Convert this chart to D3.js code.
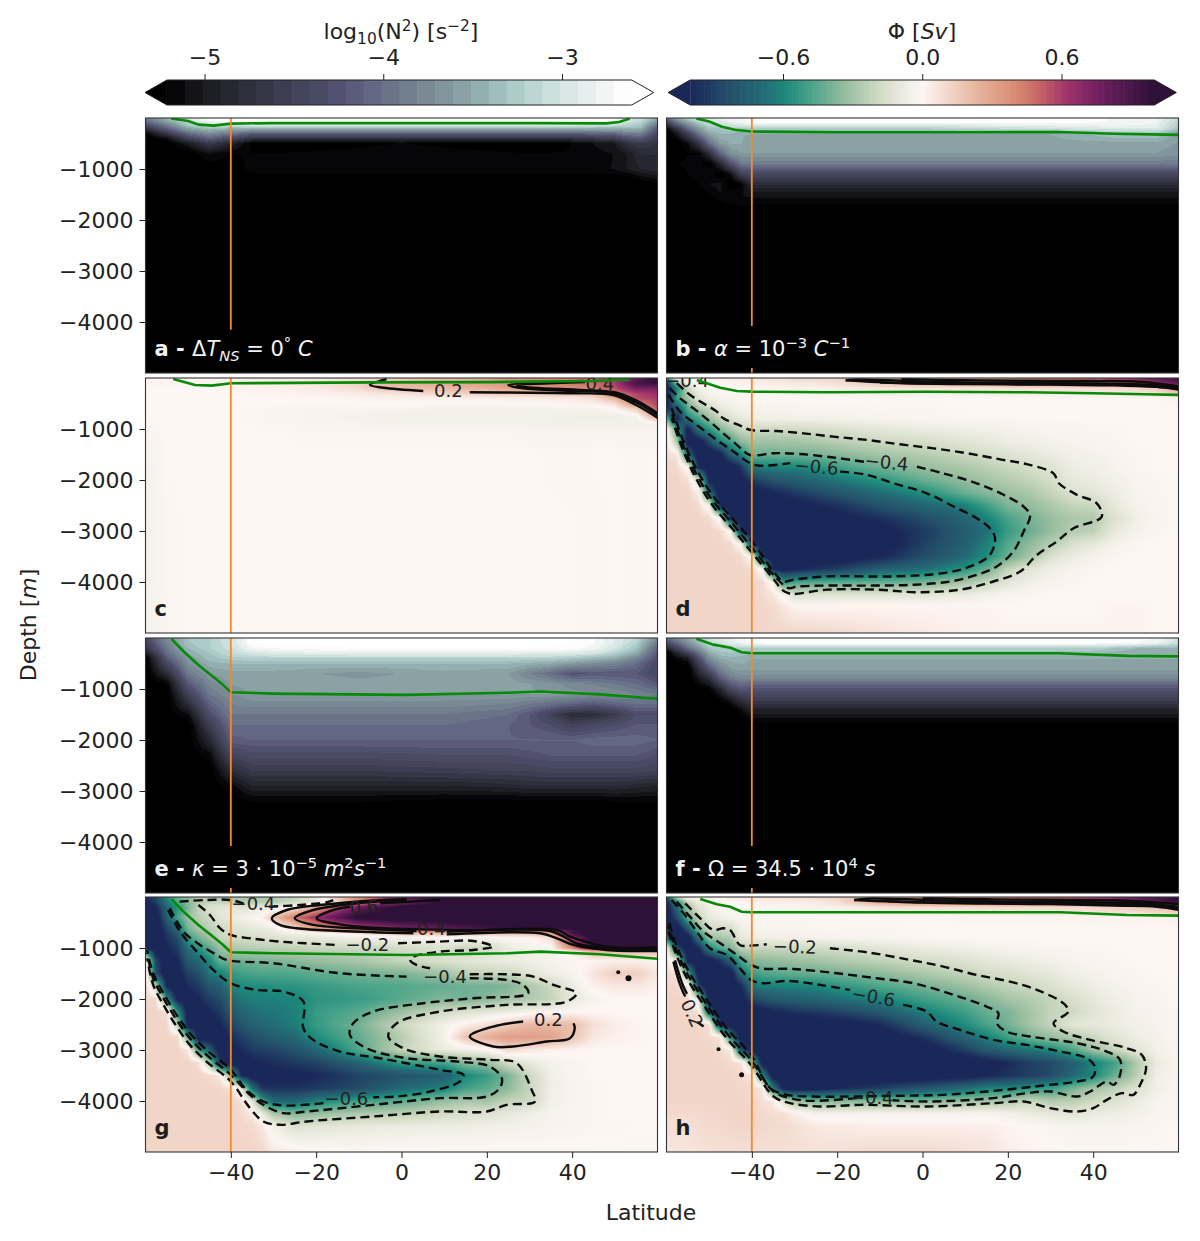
<!DOCTYPE html>
<html>
<head>
<meta charset="utf-8">
<script src="https://cdnjs.cloudflare.com/ajax/libs/d3/7.8.5/d3.min.js"></script>
<style>
  html, body { margin: 0; background: #fff; }
  text { font-family: "DejaVu Sans", sans-serif; fill: #222; }
</style>
</head>
<body>
<svg id="chart" width="1200" height="1241"></svg>
<script>
// colormaps
const N2_STOPS = [-5.2, -5.0, -4.8, -4.6, -4.4, -4.3, -4.1, -3.9, -3.7, -3.5, -3.3, -3.1, -2.9, -2.7, -2.6];
const N2_COLORS = ["#000000", "#1a1a20", "#2a2b36", "#3a3a4c", "#47485f", "#4c4c6a", "#5f6280", "#6d7a8c", "#7d8f98", "#8fa8a8", "#a5c5c4", "#c5dcd8", "#e0ece9", "#f7f9f8", "#ffffff"];
const PHI_STOPS = [-1.0, -0.83, -0.69, -0.59, -0.47, -0.33, -0.18, -0.05, 0, 0.14, 0.25, 0.4, 0.5, 0.62, 0.76, 0.91, 1.0];
const PHI_COLORS = ["#1a2759", "#24506a", "#246a75", "#1c8a7c", "#4ea58a", "#98bd9f", "#d3dcc6", "#f3f0e8", "#fdf6f3", "#efcfc0", "#e6b09a", "#d88c74", "#c76666", "#a0346a", "#701f60", "#451646", "#2f1038"];
const N2_TICKS = [-5, -4, -3];
const PHI_TICKS = [-0.6, 0, 0.6];
const LAT_TICKS = [-40, -20, 0, 20, 40];
const DEPTH_TICKS = [1000, 2000, 3000, 4000];

// panel a: log10(N2)
const latA = [-60, -55, -50, -45, -40, -35, -30, 0, 30, 40, 50, 53, 56, 60];
const depA = [0, 50, 100, 150, 200, 300, 400, 500, 700, 1000, 1200, 1300, 5000];
const gridA = [
  [-3.9, -3.4, -2.9, -2.6, -2.6, -2.6, -2.6, -2.6, -2.6, -2.6, -2.7, -2.9, -3.0, -3.5],
  [-4.0, -3.5, -3.0, -2.7, -2.6, -2.6, -2.6, -2.6, -2.6, -2.6, -2.7, -3.0, -3.1, -3.6],
  [-4.2, -3.7, -3.2, -2.9, -2.8, -2.7, -2.7, -2.7, -2.7, -2.7, -2.9, -3.1, -3.2, -3.8],
  [-4.4, -3.9, -3.3, -3.1, -3.1, -3.0, -3.0, -3.0, -3.0, -3.0, -3.1, -3.2, -3.3, -4.0],
  [-4.7, -4.1, -3.5, -3.3, -3.4, -3.4, -3.4, -3.4, -3.4, -3.4, -3.4, -3.4, -3.4, -4.2],
  [-5.2, -4.6, -4.0, -3.7, -3.9, -4.1, -4.1, -4.1, -4.1, -4.1, -4.0, -3.8, -3.8, -4.4],
  [-5.3, -5.1, -4.5, -4.1, -4.4, -4.7, -4.7, -4.7, -4.7, -4.7, -4.5, -4.3, -4.2, -4.6],
  [-5.3, -5.3, -5.0, -4.6, -4.9, -5.25, -5.3, -5.2, -5.3, -5.2, -5.0, -4.7, -4.6, -4.7],
  [-5.3, -5.3, -5.3, -5.1, -5.2, -5.2, -5.2, -5.15, -5.2, -5.2, -5.1, -5.0, -4.8, -4.8],
  [-5.3, -5.3, -5.3, -5.3, -5.3, -5.15, -5.15, -5.15, -5.15, -5.15, -5.1, -5.0, -4.9, -4.85],
  [-5.3, -5.3, -5.3, -5.3, -5.3, -5.3, -5.3, -5.3, -5.3, -5.3, -5.3, -5.3, -5.2, -5.1],
  [-5.3, -5.3, -5.3, -5.3, -5.3, -5.3, -5.3, -5.3, -5.3, -5.3, -5.3, -5.3, -5.3, -5.3],
  [-5.3, -5.3, -5.3, -5.3, -5.3, -5.3, -5.3, -5.3, -5.3, -5.3, -5.3, -5.3, -5.3, -5.3]
];
const greenA = [[-54, 10], [-50, 60], [-47.5, 130], [-44, 150], [-40, 110], [-30, 100], [0, 100], [30, 100], [48, 105], [51, 80], [53.5, 10]];

// panel b: log10(N2)
const latB = [-60, -57.5, -55, -52.5, -50, -47.5, -45, -42.5, -40, -37.5, -30, 0, 30, 45, 55, 60];
const depB = [0, 100, 200, 300, 500, 700, 900, 1100, 1300, 1500, 1700, 1800, 5000];
const gridB = [
  [-4.0, -3.5, -3.2, -3.0, -2.9, -2.8, -2.7, -2.7, -2.6, -2.6, -2.6, -2.6, -2.6, -2.7, -2.8, -3.1],
  [-4.6, -4.0, -3.6, -3.3, -3.1, -3.0, -2.9, -2.8, -2.7, -2.7, -2.7, -2.7, -2.7, -2.7, -2.8, -3.2],
  [-5.2, -4.6, -4.0, -3.6, -3.3, -3.3, -3.2, -3.2, -3.2, -3.2, -3.2, -3.2, -3.0, -2.9, -2.9, -3.3],
  [-5.3, -5.0, -4.5, -3.9, -3.5, -3.4, -3.4, -3.5, -3.5, -3.5, -3.5, -3.5, -3.5, -3.3, -3.3, -3.6],
  [-5.3, -5.3, -5.1, -4.7, -4.0, -3.6, -3.5, -3.5, -3.55, -3.55, -3.55, -3.55, -3.55, -3.55, -3.55, -3.6],
  [-5.3, -5.3, -5.2, -5.2, -4.8, -4.1, -3.7, -3.6, -3.6, -3.6, -3.6, -3.6, -3.6, -3.6, -3.6, -3.65],
  [-5.3, -5.2, -5.15, -5.15, -5.3, -4.9, -4.3, -3.9, -3.9, -3.9, -3.9, -3.9, -3.9, -3.9, -3.9, -3.9],
  [-5.3, -5.3, -5.2, -5.1, -5.1, -5.3, -5.1, -4.5, -4.4, -4.4, -4.4, -4.4, -4.4, -4.4, -4.4, -4.4],
  [-5.3, -5.3, -5.3, -5.2, -5.1, -5.05, -5.3, -5.2, -4.8, -4.8, -4.8, -4.8, -4.8, -4.8, -4.8, -4.8],
  [-5.3, -5.3, -5.3, -5.3, -5.2, -5.1, -5.1, -5.1, -5.05, -5.05, -5.05, -5.05, -5.05, -5.05, -5.05, -5.05],
  [-5.3, -5.3, -5.3, -5.3, -5.3, -5.25, -5.2, -5.15, -5.2, -5.2, -5.2, -5.2, -5.2, -5.2, -5.2, -5.2],
  [-5.3, -5.3, -5.3, -5.3, -5.3, -5.3, -5.3, -5.3, -5.3, -5.3, -5.3, -5.3, -5.3, -5.3, -5.3, -5.3],
  [-5.3, -5.3, -5.3, -5.3, -5.3, -5.3, -5.3, -5.3, -5.3, -5.3, -5.3, -5.3, -5.3, -5.3, -5.3, -5.3]
];
const greenB = [[-53, 10], [-50, 70], [-47, 170], [-44, 230], [-40, 265], [-20, 280], [10, 280], [32, 275], [45, 310], [60, 330]];

// panel e: log10(N2)
const latE = [-60, -55, -50, -45, -40, -35, -30, -10, 10, 25, 30, 35, 40, 45, 50, 55, 60];
const depE = [0, 100, 200, 300, 400, 500, 700, 900, 1100, 1300, 1500, 1700, 2000, 2300, 2600, 2900, 3200, 3500, 5000];
const gridE = [
  [-4.4, -3.7, -3.3, -3.2, -3.0, -2.6, -2.55, -2.55, -2.55, -2.55, -2.55, -2.55, -2.6, -2.7, -2.9, -3.1, -3.7],
  [-4.5, -3.8, -3.3, -3.2, -3.0, -2.6, -2.55, -2.55, -2.55, -2.55, -2.55, -2.55, -2.6, -2.7, -2.9, -3.2, -3.9],
  [-4.7, -3.9, -3.4, -3.2, -3.05, -2.75, -2.7, -2.6, -2.6, -2.6, -2.6, -2.6, -2.65, -2.75, -3.0, -3.3, -4.1],
  [-5.0, -4.0, -3.5, -3.3, -3.1, -3.0, -2.9, -2.85, -2.85, -2.85, -2.9, -2.9, -2.9, -3.0, -3.2, -3.5, -4.2],
  [-5.3, -4.2, -3.6, -3.35, -3.25, -3.2, -3.2, -3.2, -3.2, -3.2, -3.2, -3.2, -3.3, -3.4, -3.5, -3.8, -4.3],
  [-5.3, -4.4, -3.7, -3.45, -3.4, -3.4, -3.4, -3.4, -3.4, -3.4, -3.45, -3.5, -3.6, -3.7, -3.8, -4.0, -4.4],
  [-5.3, -4.8, -3.9, -3.6, -3.55, -3.55, -3.55, -3.65, -3.55, -3.6, -3.8, -4.0, -4.25, -4.2, -4.2, -4.2, -4.4],
  [-5.3, -5.2, -4.2, -3.75, -3.6, -3.55, -3.55, -3.55, -3.55, -3.55, -3.6, -3.65, -3.75, -3.8, -3.9, -4.0, -4.2],
  [-5.3, -5.3, -4.5, -3.9, -3.7, -3.6, -3.6, -3.6, -3.6, -3.6, -3.6, -3.6, -3.65, -3.7, -3.7, -3.8, -3.9],
  [-5.3, -5.3, -4.8, -4.1, -3.8, -3.75, -3.75, -3.75, -3.75, -3.8, -3.9, -4.0, -4.1, -4.2, -4.1, -4.0, -4.0],
  [-5.3, -5.3, -5.1, -4.3, -3.9, -3.9, -3.9, -3.9, -3.9, -4.0, -4.2, -4.5, -4.8, -4.8, -4.6, -4.3, -4.3],
  [-5.3, -5.3, -5.3, -4.55, -4.0, -4.0, -4.0, -4.0, -4.0, -4.1, -4.2, -4.3, -4.5, -4.4, -4.3, -4.2, -4.2],
  [-5.3, -5.3, -5.3, -4.85, -4.15, -4.1, -4.1, -4.1, -4.1, -4.1, -4.1, -4.1, -4.1, -4.05, -4.05, -4.05, -4.1],
  [-5.3, -5.3, -5.3, -5.15, -4.45, -4.35, -4.35, -4.35, -4.3, -4.3, -4.25, -4.2, -4.2, -4.2, -4.2, -4.2, -4.3],
  [-5.3, -5.3, -5.3, -5.3, -4.8, -4.6, -4.6, -4.6, -4.55, -4.5, -4.5, -4.45, -4.45, -4.45, -4.45, -4.45, -4.5],
  [-5.3, -5.3, -5.3, -5.3, -5.15, -4.9, -4.9, -4.9, -4.9, -4.85, -4.8, -4.8, -4.8, -4.8, -4.8, -4.85, -4.9],
  [-5.3, -5.3, -5.3, -5.3, -5.3, -5.2, -5.2, -5.2, -5.25, -5.25, -5.25, -5.25, -5.25, -5.25, -5.2, -5.2, -5.2],
  [-5.3, -5.3, -5.3, -5.3, -5.3, -5.3, -5.3, -5.3, -5.3, -5.3, -5.3, -5.3, -5.3, -5.3, -5.3, -5.3, -5.3],
  [-5.3, -5.3, -5.3, -5.3, -5.3, -5.3, -5.3, -5.3, -5.3, -5.3, -5.3, -5.3, -5.3, -5.3, -5.3, -5.3, -5.3]
];
const greenE = [[-53.9, 20], [-51, 270], [-47.6, 530], [-43.7, 790], [-41.8, 920], [-40, 1065], [-30, 1090], [1, 1116], [24.6, 1075], [32.5, 1050], [46.5, 1105], [60, 1190]];

// panel f: log10(N2)
const latF = [-60, -55, -50, -47.5, -45, -42.5, -40, -37.5, 0, 40, 50, 55, 60];
const depF = [0, 100, 200, 300, 400, 600, 800, 1000, 1200, 1400, 1650, 1800, 5000];
const gridF = [
  [-4.0, -3.5, -3.0, -2.9, -2.8, -2.7, -2.6, -2.6, -2.55, -2.55, -2.6, -2.7, -3.0],
  [-4.4, -3.7, -3.1, -3.0, -2.9, -2.8, -2.7, -2.65, -2.65, -2.65, -2.7, -2.8, -3.1],
  [-4.9, -4.0, -3.3, -3.2, -3.2, -3.2, -3.2, -3.2, -3.2, -3.2, -3.4, -3.5, -3.4],
  [-5.3, -4.5, -3.5, -3.35, -3.3, -3.35, -3.4, -3.4, -3.4, -3.4, -3.5, -3.5, -3.5],
  [-5.3, -5.0, -3.7, -3.5, -3.45, -3.45, -3.5, -3.5, -3.5, -3.5, -3.5, -3.5, -3.5],
  [-5.3, -5.3, -4.2, -3.8, -3.6, -3.55, -3.55, -3.55, -3.55, -3.55, -3.55, -3.55, -3.55],
  [-5.3, -5.3, -4.8, -4.2, -3.9, -3.8, -3.8, -3.8, -3.8, -3.8, -3.8, -3.8, -3.8],
  [-5.3, -5.3, -5.2, -4.9, -4.4, -4.2, -4.25, -4.25, -4.25, -4.25, -4.25, -4.25, -4.25],
  [-5.3, -5.3, -5.3, -5.2, -5.0, -4.7, -4.55, -4.55, -4.55, -4.55, -4.55, -4.55, -4.55],
  [-5.3, -5.3, -5.3, -5.3, -5.3, -5.1, -4.9, -4.9, -4.9, -4.9, -4.9, -4.9, -4.9],
  [-5.3, -5.3, -5.3, -5.3, -5.3, -5.3, -5.2, -5.2, -5.2, -5.2, -5.2, -5.2, -5.2],
  [-5.3, -5.3, -5.3, -5.3, -5.3, -5.3, -5.3, -5.3, -5.3, -5.3, -5.3, -5.3, -5.3],
  [-5.3, -5.3, -5.3, -5.3, -5.3, -5.3, -5.3, -5.3, -5.3, -5.3, -5.3, -5.3, -5.3]
];
const greenF = [[-53, 15], [-49, 130], [-45, 190], [-42.4, 280], [-40, 300], [0, 300], [32, 300], [48, 350], [60, 360]];

// panel c: phi in hundredths of Sv
const latC = [-60, -55, -50, -45, -40, -30, -20, -10, -5, 0, 10, 20, 25, 30, 40, 45, 50, 55, 60];
const depC = [0, 100, 200, 300, 400, 500, 600, 750, 900, 1100, 1500, 3000, 5000];
const gridC = [
  [0, 0, 0, 0, 2, 3, 3, 5, 8, 12, 18, 25, 35, 38, 42, 48, 55, 80, 110],
  [1, 1, 1, 1, 2, 3, 5, 14, 20, 23, 28, 32, 36, 40, 45, 50, 60, 90, 100],
  [0, 0, 0, 0, 1, 2, 4, 10, 18, 20, 22, 25, 30, 35, 38, 42, 55, 75, 75],
  [0, 0, 0, 0, 0, 1, 2, 4, 6, 8, 12, 15, 16, 16, 18, 22, 45, 58, 65],
  [0, 0, 0, 0, 0, 0, 0, 1, 2, 2, 2, 2, 3, 3, 5, 8, 25, 55, 60],
  [0, 0, 0, 0, 0, 0, 0, 0, 0, 0, 0, 0, 0, 0, 1, 2, 8, 42, 58],
  [0, 0, 0, 0, 0, -1, -2, -2, -3, -3, -4, -4, -4, -4, -4, -3, 0, 15, 55],
  [0, 0, 0, 0, 0, -2, -3, -4, -4, -5, -5, -5, -5, -5, -6, -6, -6, -4, 30],
  [-1, 0, 0, 0, 0, -1, -2, -3, -4, -4, -4, -4, -4, -4, -5, -5, -5, -5, -4],
  [-2, 0, 0, 0, 0, 0, -1, -1, -1, -1, -1, -1, -1, -2, -2, -2, -2, -2, -2],
  [-4, 0, 0, 0, 0, 0, 0, 0, 0, 0, 0, 0, 0, 0, -1, 0, 0, -1, 0],
  [-5, -1, 0, 0, 0, 0, 0, 0, 0, 0, 0, 0, 0, 0, 0, -1, 0, -1, 0],
  [-4, -1, 0, 0, 0, 0, 0, 0, 0, 0, 0, 0, 0, 0, 0, -1, 0, -1, 0]
];
const greenC = [[-53.5, 20], [-48.4, 137], [-44.5, 150], [-40, 104], [-6.6, 85], [20, 80], [45, 60], [53.5, 30]];
const solidC = [
  [[-3.5, 20], [-7.4, 137], [-4.3, 190], [5.1, 254]],
  [[16, 280], [40.3, 300], [49.6, 333], [55, 530], [60, 780]],
  [[42.6, 58], [25, 137], [28.5, 202], [40.3, 254], [49.6, 300], [55, 476], [60, 730]],
  [[43, 80], [27, 150], [31, 190], [42, 235], [50, 280], [55, 440], [60, 690]]
];

// panels d and h share a finer grid
const latFine = [-60, -57.5, -55, -52.5, -50, -47.5, -45, -42.5, -40, -37.5, -35, -32.5, -30, -25, -20, -10, 0, 10, 15, 20, 25, 30, 35, 40, 45, 50, 55, 60];
const depFine = [0, 100, 200, 400, 600, 800, 1000, 1250, 1500, 1750, 2000, 2250, 2500, 2750, 3000, 3250, 3500, 3750, 4000, 4250, 4500, 5000];

const gridD = [
  [-50, -10, 0, 0, 0, 2, 3, 3, 5, 6, 7, 8, 10, 10, 12, 25, 30, 35, 40, 40, 45, 50, 50, 55, 60, 70, 85, 95],
  [-100, -30, -5, 0, 0, 0, 2, 2, 3, 3, 4, 4, 5, 6, 8, 18, 25, 30, 30, 35, 35, 40, 40, 40, 45, 50, 65, 85],
  [-110, -60, -20, -5, 0, 0, 0, 0, 0, 0, 1, 1, 2, 2, 3, 5, 6, 6, 6, 7, 8, 8, 8, 8, 9, 10, 15, 30],
  [-110, -50, -30, -12, -6, -3, -2, -1, 0, 0, 0, 0, 0, 0, 0, 0, 0, 0, 0, 0, 0, 0, 0, 0, 0, 0, 0, 2],
  [-100, -80, -45, -30, -20, -10, -6, -4, -3, -3, -3, -3, -2, -2, -2, -1, -1, 0, 0, 0, 0, 0, 0, 0, 0, 0, 0, 0],
  [-40, -105, -60, -48, -33, -22, -15, -10, -7, -6, -6, -6, -5, -5, -4, -3, -2, -1, -1, -1, 0, 0, 0, 0, 0, 0, 0, 0],
  [3, -50, -105, -66, -55, -38, -28, -20, -19, -19, -19, -18, -18, -17, -15, -11, -8, -6, -5, -4, -3, -2, -2, -1, -1, 0, 0, 0],
  [8, -30, -110, -110, -85, -62, -50, -35, -30, -31, -31, -30, -30, -28, -25, -20, -17, -12, -10, -7, -6, -4, -3, -2, -1, 0, 0, 0],
  [10, 5, -70, -110, -110, -105, -75, -62, -40, -41, -41, -40, -40, -39, -36, -30, -26, -20, -17, -14, -11, -8, -5, -4, -2, -1, 0, 0],
  [12, 10, -2, -100, -110, -110, -110, -95, -65, -62, -62, -60, -61, -57, -50, -40, -33, -28, -24, -20, -17, -13, -7, -6, -3, -1, 0, 0],
  [12, 12, 8, -15, -105, -110, -110, -105, -92, -85, -80, -78, -75, -71, -65, -55, -42, -34, -30, -26, -22, -17, -10, -8, -5, -2, -1, 0],
  [12, 12, 12, 3, -70, -110, -110, -110, -108, -105, -100, -96, -92, -86, -80, -68, -58, -41, -36, -32, -28, -22, -14, -12, -7, -3, -1, 0],
  [12, 12, 12, 10, -5, -100, -110, -110, -110, -110, -110, -108, -106, -100, -95, -82, -72, -62, -50, -38, -34, -28, -22, -20, -10, -4, -2, 0],
  [12, 12, 12, 12, 10, -3, -100, -110, -110, -110, -110, -110, -110, -110, -106, -96, -85, -72, -62, -48, -40, -33, -28, -27, -14, -6, -2, 0],
  [12, 12, 12, 12, 12, 10, -3, -100, -110, -110, -110, -110, -110, -110, -110, -106, -92, -76, -68, -52, -42, -33, -26, -24, -10, -4, -1, 0],
  [12, 12, 12, 12, 12, 12, 10, -3, -95, -110, -110, -110, -110, -110, -110, -108, -90, -74, -62, -46, -35, -26, -16, -10, -4, -1, 0, 0],
  [12, 12, 12, 12, 12, 12, 12, 10, -3, -100, -110, -110, -110, -110, -110, -100, -85, -70, -58, -42, -30, -15, -8, -4, -1, 0, 0, 0],
  [12, 12, 12, 12, 12, 12, 12, 12, 10, -3, -100, -105, -100, -95, -90, -75, -68, -55, -42, -22, -12, -6, -3, -1, 0, 0, 0, 0],
  [12, 12, 12, 12, 12, 12, 12, 12, 12, 10, -5, -55, -50, -46, -45, -43, -40, -30, -21, -12, -6, -3, -1, 0, 0, 0, 0, 0],
  [12, 12, 12, 12, 12, 12, 12, 12, 12, 10, 6, -4, -15, -14, -13, -13, -12, -8, -5, -2, -1, 0, 0, 0, 0, 0, 0, 0],
  [12, 12, 12, 12, 12, 12, 12, 12, 12, 11, 10, 6, 2, 1, 1, 1, 1, 1, 1, 0, 0, 0, 0, 0, 1, 1, 0, 0],
  [12, 12, 12, 12, 12, 12, 12, 12, 12, 12, 11, 11, 11, 11, 10, 7, 4, 2, 2, 1, 1, 1, 1, 1, 1, 1, 0, 0]
];
const greenD = [[-52.9, 40], [-47.4, 190], [-43.5, 255], [-40, 268], [-22.4, 280], [1, 270], [24.4, 280], [40, 300], [52, 320], [60, 330]];
const dashD = [
  [[-57.6, 100], [-54.5, 330], [-51.3, 500], [-48.2, 660], [-46.7, 790], [-43.1, 920], [-40.2, 1020], [-34.2, 1040], [-27.9, 1085], [-20.9, 1150], [-13, 1215], [-5.3, 1300], [2.6, 1380], [10.4, 1475], [18.2, 1595], [24.4, 1690], [30.7, 1870], [31.9, 2060], [36.2, 2290], [40.8, 2455], [42, 2720], [35.4, 2945], [31.5, 3205], [26.8, 3470], [22.9, 3795], [16.6, 3990], [8.8, 4150], [-1.3, 4200], [-10.7, 4150], [-22.4, 4150], [-31, 4230], [-33, 4150], [-34.2, 4020], [-40.2, 3400], [-44.3, 2980], [-49, 2520], [-52.9, 2000], [-56, 1440], [-58.8, 790]],
  [[-59.2, 200], [-56.8, 400], [-53.7, 594], [-49.8, 855], [-46.7, 1085], [-43.5, 1310], [-40.4, 1510], [-34.9, 1475], [-28.7, 1490], [-20.9, 1560], [-13, 1650]],
  [[-1.3, 1740], [4.9, 1870], [12.7, 2065], [19, 2290], [23.7, 2520], [25.2, 2700], [23.7, 3010], [21.3, 3400], [17.4, 3695], [12.7, 3860], [6.5, 3990], [-2.1, 4055], [-11.5, 4070], [-22.4, 4070], [-29.5, 4090], [-31.4, 4120], [-34.2, 3925], [-40.2, 3305], [-44.3, 2880], [-49, 2425], [-52.9, 1900], [-56, 1345], [-58.8, 690]],
  [[-59.5, 330], [-56.8, 660], [-52.9, 920], [-48.2, 1215], [-44.3, 1440], [-40.4, 1670], [-38, 1720], [-31, 1670]],
  [[-19.3, 1835], [-13, 1900], [-6.8, 2065], [1, 2260], [7.3, 2520], [12.7, 2750], [15.8, 2945], [17, 3140], [15.8, 3470], [11.2, 3695], [4.9, 3825], [-6.8, 3890], [-22.4, 3890], [-30.3, 3955], [-32.6, 3990], [-34.9, 3795], [-40.2, 3175], [-44.3, 2780], [-49, 2325], [-52.9, 1800], [-56, 1245], [-58.8, 594]]
];
const solidD = [
  [[-18, 45], [-5, 100], [10, 120], [30, 130], [45, 145], [55, 175], [60, 225]],
  [[-18, 45], [-15, 30], [0, 70], [15, 95], [30, 100], [45, 110], [55, 140], [60, 190]],
  [[-5, 20], [10, 45], [25, 55], [40, 60], [50, 70], [60, 160]],
  [[-10, 90], [5, 110], [25, 118], [45, 130], [60, 205]]
];

// panel g needs two more rows where the warm cell ends abruptly
const depG = [0, 100, 200, 400, 600, 650, 720, 800, 1000, 1060, 1250, 1500, 1750, 2000, 2250, 2500, 2750, 3000, 3250, 3500, 3750, 4000, 4250, 4500, 5000];
const gridG = [
  [-100, -85, -60, -42, -35, -28, -25, -28, -30, -30, -30, -30, -28, -22, -10, 40, 80, 110, 110, 110, 110, 110, 110, 110, 110, 110, 110, 110],
  [-105, -90, -65, -45, -35, -25, -22, -22, -24, -25, -25, -25, -25, -18, -10, 35, 70, 105, 110, 110, 110, 110, 110, 110, 110, 110, 110, 110],
  [-110, -100, -72, -55, -38, -22, -15, -12, -10, -12, -12, -10, -8, 3, 28, 78, 105, 110, 110, 110, 110, 110, 110, 110, 110, 110, 110, 110],
  [-110, -108, -75, -48, -32, -24, -19, -12, -8, -5, -2, 3, 18, 45, 65, 105, 110, 110, 110, 110, 110, 110, 110, 110, 110, 110, 110, 110],
  [-110, -110, -88, -68, -38, -28, -23, -19, -15, -12, -10, -8, -5, 12, 35, 55, 75, 85, 90, 95, 100, 105, 110, 110, 110, 110, 110, 110],
  [-110, -110, -90, -72, -40, -30, -25, -20, -16, -13, -11, -9, -7, 5, 20, 40, 58, 62, 62, 62, 62, 62, 62, 95, 110, 110, 110, 110],
  [-110, -110, -93, -78, -45, -35, -28, -20, -17, -15, -14, -12, -10, -6, -3, 5, 15, 18, 18, 18, 18, 20, 25, 90, 110, 110, 110, 110],
  [-110, -110, -95, -85, -52, -40, -30, -21, -18, -18, -17, -15, -14, -12, -10, -6, -3, -1, -2, -3, 0, 0, 8, 70, 105, 110, 110, 110],
  [-110, -110, -100, -92, -65, -55, -45, -32, -28, -26, -25, -24, -24, -23, -21, -20, -18, -15, -21, -19, -8, -4, -2, 40, 100, 100, 100, 100],
  [-60, -110, -102, -93, -70, -58, -48, -34, -30, -29, -28, -27, -27, -26, -24, -22, -19, -15, -18, -16, -8, -5, -3, 2, 25, 22, 20, 20],
  [5, -90, -108, -100, -78, -70, -60, -42, -41, -40, -39, -38, -38, -36, -33, -29, -21, -15, -12, -10, -8, -6, -4, -1, 1, 2, 2, 1],
  [10, -85, -110, -105, -90, -82, -65, -62, -53, -50, -48, -47, -47, -46, -44, -40, -38, -30, -24, -22, -20, -12, -6, -3, 6, 14, 14, 5],
  [12, -25, -100, -108, -98, -92, -80, -75, -61, -59, -58, -58, -56, -55, -52, -48, -46, -43, -41, -40, -38, -28, -20, -8, 2, 5, 5, 2],
  [12, 10, -55, -105, -105, -100, -90, -85, -72, -65, -62, -62, -62, -61, -55, -52, -45, -37, -40, -36, -30, -27, -22, -10, -3, 0, 0, 0],
  [12, 12, 8, -55, -110, -105, -100, -92, -80, -72, -68, -66, -65, -62, -52, -45, -32, -18, -15, -12, -8, -4, -2, 0, 0, 0, 0, 0],
  [12, 12, 12, -25, -110, -110, -108, -100, -88, -80, -74, -70, -68, -63, -52, -40, -20, -5, 2, 8, 15, 22, 22, 20, 8, 3, 1, 0],
  [12, 12, 12, 12, -45, -110, -110, -106, -97, -90, -84, -80, -76, -70, -58, -43, -25, -4, 18, 25, 32, 32, 30, 18, 5, 2, 1, 0],
  [12, 12, 12, 12, 5, -55, -75, -110, -105, -98, -92, -90, -88, -82, -72, -46, -22, -8, -7, -2, 10, 5, 2, 1, 0, 0, 0, 0],
  [12, 12, 12, 12, 12, 8, -28, -95, -110, -106, -102, -99, -97, -92, -88, -72, -52, -48, -35, -32, -17, -10, -4, -2, 0, 0, 0, 0],
  [12, 12, 12, 12, 12, 12, 10, 5, -38, -100, -108, -108, -106, -104, -100, -88, -82, -75, -60, -52, -38, -20, -6, -2, 0, 0, 0, 0],
  [12, 12, 12, 12, 12, 12, 12, 11, 8, -10, -70, -95, -95, -95, -92, -85, -70, -62, -50, -44, -35, -21, -6, -3, -1, 0, 0, 0],
  [12, 12, 12, 12, 12, 12, 12, 12, 12, 8, -12, -50, -72, -72, -62, -50, -44, -33, -28, -30, -22, -20, -5, -2, -1, 0, 0, 0],
  [12, 12, 12, 12, 12, 12, 12, 12, 12, 10, 4, -10, -28, -37, -33, -27, -24, -18, -15, -14, -10, -6, -3, -2, -1, 0, 0, 0],
  [12, 12, 12, 12, 12, 12, 12, 12, 12, 11, 10, 5, -5, -14, -12, -9, -8, -7, -7, -6, -5, -4, -3, -2, -1, -1, 0, 0],
  [12, 12, 12, 12, 12, 12, 12, 12, 12, 12, 12, 10, 5, 3, 1, 0, 1, 1, 1, 1, 1, 1, 1, 1, 1, 1, 1, 1]
];
const greenG = [[-53.9, 40], [-51.1, 288], [-47.6, 549], [-43.7, 810], [-41.8, 940], [-40, 1084], [-30, 1104], [1.2, 1136], [24.6, 1104], [32.5, 1071], [46.5, 1123], [60, 1210]];
const dashG = [
  [[-52, 90], [-46, 60], [-40, 60], [-37, 130]],
  [[-31, 190], [-24.5, 160], [-17.5, 100], [-16, 60]],
  [[-47.6, 157], [-44.9, 353], [-42.5, 614], [-40, 745], [-35.5, 810], [-28.5, 875], [-15.2, 940]],
  [[-0.8, 908], [9, 875], [16.8, 862], [21.5, 973], [16.8, 1038], [9, 1071], [2.8, 1169], [2, 1234], [3.5, 1332], [6.7, 1398]],
  [[16, 1515], [24.6, 1515], [30.9, 1560], [35.6, 1724], [41, 1887], [38.7, 2051], [24.6, 2116], [9, 2246], [-1.1, 2475], [-3.1, 2736], [0.4, 2965], [9, 3128], [20.7, 3193], [27, 3259], [30.5, 3781], [31.3, 4010], [24.6, 4075], [20, 4206], [9, 4206], [-6.6, 4303], [-22.2, 4401], [-28.5, 4467], [-32.4, 4401], [-35.5, 4140], [-40, 3618], [-45.7, 3226], [-49.6, 2900], [-52.7, 2540], [-55.8, 2116], [-58.2, 1724], [-59.6, 1200]],
  [[-54.3, 222], [-51.1, 679], [-47.2, 940], [-43.3, 1136], [-41, 1234], [-30, 1300], [-14.4, 1496], [1.2, 1561]],
  [[16, 1594], [24.6, 1626], [28.5, 1724], [29.7, 1887], [16.8, 1985], [5.1, 2083], [-6.6, 2246], [-11.3, 2475], [-12.1, 2704], [-8.2, 2965], [1.2, 3161], [12.9, 3226], [20.7, 3324], [23.5, 3552], [23, 3748], [20, 3912], [9, 3944], [-6.6, 4075], [-22.2, 4206], [-27.7, 4238], [-32.4, 4075], [-35.5, 3879], [-40, 3487], [-45.7, 3095], [-49.6, 2769], [-52.7, 2410], [-55.8, 1985], [-58.2, 1594], [-59.6, 1100]],
  [[-54.7, 255], [-51.9, 679], [-48, 1071], [-44.1, 1430], [-40, 1692], [-34, 1822], [-27.7, 1855], [-23, 2051], [-23, 2573], [-20.7, 2802], [-14.4, 3030], [-5.1, 3161], [9, 3389], [14.5, 3487], [13.7, 3618], [6.7, 3814], [-1.1, 3912], [-6.6, 3925]],
  [[-18.3, 4042], [-27.7, 4088], [-32.4, 4010], [-36.3, 3781], [-40, 3389], [-45.7, 2998], [-49.6, 2671], [-52.7, 2312], [-55.8, 1887], [-58.2, 1496], [-59.6, 1040]]
];
const solidG = [
  [[28.5, 2442], [21.5, 2540], [16, 2736], [21.5, 2932], [26.2, 2932], [34, 2834], [39.5, 2769], [40.6, 2573], [40.3, 2475]],
  [[1.2, 40], [-10.5, 92], [-19.1, 157], [-26.9, 255], [-30.4, 418], [-28.5, 548], [-24.6, 614], [-14.4, 666], [2.8, 712]],
  [[10.6, 732], [32.5, 712], [36.4, 810], [40.3, 940], [48, 1038], [60, 1060]],
  [[1.2, 60], [-10.5, 124], [-20.7, 255], [-25, 418], [-20.7, 548], [-10.5, 614], [3.5, 666]],
  [[10.6, 680], [34.8, 666], [38, 777], [41, 908], [48, 1006], [60, 1022]],
  [[9, 60], [-5, 124]],
  [[-12, 190], [-16, 255], [-19.9, 418], [-14.4, 536], [-6.6, 600], [16.8, 647], [36.4, 647], [39.5, 777], [41.8, 842], [48, 973], [60, 990]]
];
const dotsG = [[50.8, 1476, 2], [53.2, 1594, 3]];

const gridH = [
  [-80, -20, 0, 0, 0, 0, 2, 3, 5, 6, 6, 7, 8, 10, 12, 25, 35, 40, 45, 45, 50, 50, 55, 60, 70, 80, 90, 100],
  [-100, -60, -20, -8, -3, -1, 0, 1, 2, 2, 3, 3, 3, 4, 8, 28, 40, 45, 45, 50, 50, 50, 55, 60, 65, 75, 85, 100],
  [-110, -70, -30, -13, -6, -3, -1, 0, 0, 0, 1, 1, 1, 2, 2, 6, 8, 8, 9, 9, 10, 10, 10, 12, 14, 16, 20, 25],
  [-110, -85, -42, -22, -9, -6, -3, -2, -1, -1, -1, -1, -1, 0, 0, 0, 0, 1, 1, 1, 1, 1, 1, 1, 1, 2, 2, 3],
  [-100, -110, -75, -35, -18, -16, -16, -5, -3, -2, -2, -2, -2, -1, -1, -1, 0, 0, 0, 0, 0, 0, 0, 0, 0, 0, 0, 0],
  [-70, -110, -110, -65, -32, -30, -26, -10, -7, -6, -6, -5, -5, -4, -3, -2, -1, 0, 0, 0, 0, 0, 0, 0, 0, 0, 0, 0],
  [0, -85, -110, -100, -60, -45, -38, -23, -21, -21, -20, -20, -19, -18, -17, -12, -8, -6, -4, -3, -2, -1, -1, -1, 0, 0, 0, 0],
  [6, -10, -105, -110, -110, -95, -75, -47, -37, -35, -34, -33, -32, -30, -27, -23, -18, -14, -11, -9, -7, -5, -3, -2, -1, 0, 0, 0],
  [10, 8, -45, -108, -110, -110, -110, -68, -52, -47, -45, -44, -43, -42, -40, -35, -28, -22, -18, -16, -12, -10, -6, -4, -2, -1, 0, 0],
  [12, 10, 5, -90, -110, -110, -110, -100, -68, -62, -62, -62, -61, -60, -55, -47, -40, -32, -27, -22, -20, -15, -10, -7, -4, -2, -1, 0],
  [12, 12, 10, -15, -110, -110, -110, -108, -88, -82, -78, -76, -75, -72, -68, -61, -50, -42, -36, -30, -26, -22, -16, -10, -6, -3, -2, 0],
  [12, 12, 12, 8, -80, -110, -110, -110, -108, -105, -100, -98, -95, -92, -88, -78, -62, -50, -42, -38, -30, -22, -20, -12, -8, -4, -3, -1],
  [12, 12, 12, 11, 8, -95, -110, -110, -110, -110, -110, -110, -110, -110, -108, -98, -75, -58, -48, -40, -30, -22, -12, -10, -8, -5, -3, -1],
  [12, 12, 12, 12, 10, 8, -60, -110, -110, -110, -110, -110, -110, -110, -110, -110, -95, -72, -62, -50, -40, -33, -27, -20, -12, -7, -4, -1],
  [12, 12, 12, 12, 12, 10, 5, -85, -110, -110, -110, -110, -110, -110, -110, -110, -110, -90, -78, -72, -66, -60, -48, -32, -21, -12, -5, -2],
  [12, 12, 12, 12, 12, 12, 10, 8, -35, -110, -110, -110, -110, -110, -110, -110, -110, -110, -105, -98, -90, -85, -75, -62, -50, -28, -8, -2],
  [12, 12, 12, 12, 12, 12, 12, 10, 8, -60, -110, -110, -110, -110, -110, -110, -110, -105, -100, -95, -90, -85, -72, -60, -42, -25, -6, -2],
  [12, 12, 12, 12, 12, 12, 12, 11, 10, 6, -65, -105, -110, -105, -100, -90, -80, -70, -62, -60, -55, -52, -40, -30, -24, -15, -5, -2],
  [12, 12, 12, 12, 12, 12, 12, 12, 11, 8, 5, -15, -30, -38, -36, -37, -38, -32, -30, -28, -20, -26, -25, -19, -14, -8, -3, -1],
  [10, 10, 10, 10, 11, 11, 12, 12, 12, 10, 9, 8, 3, -4, -4, -3, -3, -3, -2, -5, -8, -10, -12, -8, -7, -5, -2, -1],
  [8, 8, 8, 9, 10, 10, 11, 12, 12, 11, 10, 10, 8, 5, 4, 3, 3, 3, 3, 1, 0, -2, -3, -3, -3, -2, -1, 0],
  [6, 6, 6, 7, 8, 8, 8, 8, 8, 8, 8, 8, 8, 8, 8, 10, 10, 8, 7, 3, 1, 1, 0, 0, 0, 0, 0, 0]
];
const greenH = [[-52.1, 40], [-48.2, 144], [-45.1, 190], [-42.4, 288], [-40.2, 300], [1, 300], [32.3, 300], [47.9, 353], [60, 366]];
const dashH = [
  [[-55.6, 124], [-52.5, 385], [-49, 647], [-46.7, 614], [-45.1, 647], [-42.8, 940], [-40.2, 954], [-36.5, 927]],
  [[-21.7, 1006], [-13, 1084], [-2.9, 1234], [4.9, 1365], [12.7, 1528], [20.5, 1659], [26.8, 1822], [33, 2083], [34.2, 2246], [30.7, 2475], [33, 2638], [39.3, 2802], [47.9, 2965], [51.4, 3095], [52.4, 3357], [51, 3683], [49.4, 3879], [46.7, 3846], [43.2, 3977], [40, 4140], [36.2, 4206], [29.9, 4140], [23.7, 4010], [16.6, 4042], [1, 4108], [-14.6, 4075], [-24, 4108], [-31, 4042], [-34.9, 3912], [-40.2, 3291], [-45.9, 2769], [-51.3, 2116], [-55.2, 1594], [-58, 1071], [-59.5, 679]],
  [[-57.6, 92], [-54.5, 385], [-51.3, 679], [-47.4, 908], [-43.5, 1136], [-40.2, 1332], [-38, 1398], [-30.3, 1411], [-20, 1496], [-10.7, 1594], [-2.1, 1692], [7.3, 1920], [15, 2148], [17.8, 2279], [17.4, 2475], [19.7, 2638], [25.2, 2736], [36.2, 2867], [43.2, 3030], [46.3, 3193], [46.3, 3487], [44.8, 3683], [43.2, 3618], [39.3, 3814], [36.2, 3912], [29.9, 3814], [24.4, 3846], [16.6, 3944], [1, 4010], [-7, 3985]],
  [[-15.4, 3944], [-26.3, 3997], [-31, 3944], [-34.9, 3814], [-40.2, 3193], [-45.9, 2671], [-51.3, 2018], [-55.2, 1496], [-58, 973], [-59.5, 581]],
  [[-58.8, 60], [-56, 320], [-52.9, 679], [-49.8, 1006], [-45.9, 1136], [-42.8, 1398], [-40.2, 1626], [-37.3, 1692], [-31.8, 1646], [-24, 1724], [-17, 1822]],
  [[-4.5, 2116], [1, 2246], [3.3, 2442], [8.8, 2606], [16.6, 2802], [24.4, 2900], [32.3, 3030], [38.5, 3161], [40.4, 3324], [40, 3520], [36.2, 3618], [28.3, 3696], [22.9, 3748], [15, 3814], [4.9, 3879], [-6.8, 3899], [-26.3, 3912], [-31.8, 3879], [-35.7, 3748], [-40.2, 3095], [-45.9, 2573], [-51.3, 1920], [-55.2, 1398], [-58, 875], [-59.5, 483]]
];
const solidH = [
  [[-16, 60], [0, 110], [15, 130], [30, 140], [45, 170], [55, 190], [60, 250]],
  [[-16, 60], [-12, 30], [5, 70], [20, 90], [35, 100], [50, 120], [60, 190]],
  [[0, 20], [15, 45], [30, 55], [45, 65], [60, 140]],
  [[-8, 85], [10, 115], [30, 125], [50, 150], [60, 220]],
  [[-58.4, 1267], [-56.8, 1724], [-55.6, 1950]],
  [[-58, 1240], [-56.3, 1700], [-55.2, 1900]],
  [[-52.8, 2450], [-51.3, 2540]]
];
const dotsH = [[-47.8, 2985, 2], [-42.4, 3487, 2.5]];

// inline contour labels: [text, lat, depth, rotation]
const labelsC = [["0.2", 11, 248, 0], ["0.4", 46.5, 104, 0]];
const labelsD = [["−0.6", -24.8, 1737, 5], ["−0.4", -8.4, 1652, 6], ["−0.4", -55.2, 40, 0]];
const labelsG = [["−0.4", -34.7, 124, 0], ["0.6", -8.8, 190, -4], ["0.4", 7, 614, 0], ["−0.2", -8, 927, 0], ["−0.4", 10.2, 1561, 0], ["0.2", 34.4, 2410, 0], ["−0.6", -12.9, 3944, 0]];
const labelsH = [["−0.2", -29.9, 973, 2], ["−0.6", -11.5, 1953, 10], ["−0.4", -11.9, 3930, 0], ["0.2", -54, 2280, 65]];

// orange line stretches, broken where the panel text sits
const orangeFull = [[0, 5000]];
const orangeA = [[0, 4150]];
const orangeCut = [[0, 4080], [4900, 5000]];

const colLeft = [145.5, 666.5];
const rowTop = [118, 378, 638, 897];
const panelW = 512;
const panelH = 255;

const panels = [
  { id: "a", col: 0, row: 0, kind: "n2", lat: latA, dep: depA, grid: gridA, green: greenA, orange: orangeA, dash: [], solid: [], labels: [], dots: [], title: [["a", "b"], [" - ", "b"], ["Δ", ""], ["T", "i"], ["NS", "is"], [" = 0", "r"], ["°", "u"], [" ", ""], ["C", "i"]] },
  { id: "b", col: 1, row: 0, kind: "n2", lat: latB, dep: depB, grid: gridB, green: greenB, orange: orangeCut, dash: [], solid: [], labels: [], dots: [], title: [["b", "b"], [" - ", "b"], ["α", "i"], [" = 10", "r"], ["−3", "u"], [" ", ""], ["C", "i"], ["−1", "u"]] },
  { id: "c", col: 0, row: 1, kind: "phi", lat: latC, dep: depC, grid: gridC, green: greenC, orange: orangeFull, dash: [], solid: solidC, labels: labelsC, dots: [], title: [["c", "b"]] },
  { id: "d", col: 1, row: 1, kind: "phi", lat: latFine, dep: depFine, grid: gridD, green: greenD, orange: orangeFull, dash: dashD, solid: solidD, labels: labelsD, dots: [], title: [["d", "b"]] },
  { id: "e", col: 0, row: 2, kind: "n2", lat: latE, dep: depE, grid: gridE, green: greenE, orange: orangeCut, dash: [], solid: [], labels: [], dots: [], title: [["e", "b"], [" - ", "b"], ["κ", "i"], [" = 3 · 10", "r"], ["−5", "u"], [" ", ""], ["m", "i"], ["2", "u"], ["s", "i"], ["−1", "u"]] },
  { id: "f", col: 1, row: 2, kind: "n2", lat: latF, dep: depF, grid: gridF, green: greenF, orange: orangeCut, dash: [], solid: [], labels: [], dots: [], title: [["f", "b"], [" - ", "b"], ["Ω = 34.5 · 10", "r"], ["4", "u"], [" ", ""], ["s", "i"]] },
  { id: "g", col: 0, row: 3, kind: "phi", lat: latFine, dep: depG, grid: gridG, green: greenG, orange: orangeFull, dash: dashG, solid: solidG, labels: labelsG, dots: dotsG, title: [["g", "b"]] },
  { id: "h", col: 1, row: 3, kind: "phi", lat: latFine, dep: depFine, grid: gridH, green: greenH, orange: orangeFull, dash: dashH, solid: solidH, labels: labelsH, dots: dotsH, title: [["h", "b"]] }
];

const n2Ramp = d3.scaleLinear().domain(N2_STOPS).range(N2_COLORS).clamp(true);
const phiRamp = d3.scaleLinear().domain(PHI_STOPS).range(PHI_COLORS).clamp(true);
// the N2 colorbar has 26 flat steps of 0.1
const n2Step = v => n2Ramp(Math.floor((v + 5.2) / 0.1) * 0.1 - 5.2 + 0.05);
const n2Color = v => v < -5.2 ? "#000000" : (v >= -2.6 ? "#ffffff" : n2Step(v));

const svg = d3.select("#chart");
const FS = 22;

// writes math-style runs into a text element
function writeRuns(sel, runs, size) {
  let shift = 0;
  runs.forEach(([str, st]) => {
    const t = sel.append("tspan").text(str).attr("xml:space", "preserve");
    let target = 0;
    if (st === "b") t.attr("font-weight", 700);
    if (st === "i" || st === "is") t.attr("font-style", "italic");
    if (st === "s" || st === "is") { t.attr("font-size", size * 0.7); target = size * 0.22; }
    if (st === "u") { t.attr("font-size", size * 0.7); target = -size * 0.36; }
    t.attr("dy", target - shift);
    shift = target;
  });
}

// bilinear shading of the read grid, keyed on the panel scales
function fieldImage(p, x, y) {
  const canvas = document.createElement("canvas");
  canvas.width = panelW;
  canvas.height = panelH;
  const ctx = canvas.getContext("2d");
  const img = ctx.createImageData(panelW, panelH);
  const x0 = x.range()[0], y0 = y.range()[0];
  const color = p.kind === "n2" ? n2Color : v => phiRamp(v / 100);
  const cache = new Map();
  for (let j = 0; j < panelH; j++) {
    const d = y.invert(y0 + j + 0.5);
    const jb = Math.min(Math.max(d3.bisectRight(p.dep, d), 1), p.dep.length - 1);
    const ty = (d - p.dep[jb - 1]) / (p.dep[jb] - p.dep[jb - 1]);
    for (let i = 0; i < panelW; i++) {
      const l = x.invert(x0 + i + 0.5);
      const ib = Math.min(Math.max(d3.bisectRight(p.lat, l), 1), p.lat.length - 1);
      const tx = (l - p.lat[ib - 1]) / (p.lat[ib] - p.lat[ib - 1]);
      const r0 = p.grid[jb - 1], r1 = p.grid[jb];
      const v = (1 - ty) * ((1 - tx) * r0[ib - 1] + tx * r0[ib]) + ty * ((1 - tx) * r1[ib - 1] + tx * r1[ib]);
      const key = Math.round(v * 100);
      let c = cache.get(key);
      if (!c) { c = d3.rgb(color(v)); cache.set(key, c); }
      const k = (j * panelW + i) * 4;
      img.data[k] = c.r; img.data[k + 1] = c.g; img.data[k + 2] = c.b; img.data[k + 3] = 255;
    }
  }
  ctx.putImageData(img, 0, 0);
  return canvas.toDataURL();
}

panels.forEach(p => {
  const left = colLeft[p.col], top = rowTop[p.row];
  const x = d3.scaleLinear().domain([-60, 60]).range([left, left + panelW]);
  const y = d3.scaleLinear().domain([0, 5000]).range([top, top + panelH]);
  const line = d3.line().x(d => x(d[0])).y(d => y(d[1]));
  const curved = d3.line().x(d => x(d[0])).y(d => y(d[1])).curve(d3.curveCatmullRom.alpha(0.5));
  const g = svg.append("g");

  svg.append("clipPath").attr("id", `clip-${p.id}`).append("rect")
    .attr("x", left).attr("y", top).attr("width", panelW).attr("height", panelH);
  const inner = g.append("g").attr("clip-path", `url(#clip-${p.id})`);

  inner.append("image")
    .attr("x", left).attr("y", top).attr("width", panelW).attr("height", panelH)
    .attr("href", fieldImage(p, x, y));

  inner.selectAll("path.solid").data(p.solid).join("path")
    .attr("class", "solid").attr("d", curved).attr("fill", "none")
    .attr("stroke", "#0c0c0c").attr("stroke-width", 2.4);
  inner.selectAll("path.dash").data(p.dash).join("path")
    .attr("class", "dash").attr("d", curved).attr("fill", "none")
    .attr("stroke", "#0c0c0c").attr("stroke-width", 2.4).attr("stroke-dasharray", "9,5");
  inner.selectAll("circle.dot").data(p.dots).join("circle")
    .attr("class", "dot").attr("cx", d => x(d[0])).attr("cy", d => y(d[1])).attr("r", d => d[2]).attr("fill", "#0c0c0c");

  inner.selectAll("text.clabel").data(p.labels).join("text")
    .attr("class", "clabel")
    .attr("transform", d => `translate(${x(d[1])},${y(d[2])}) rotate(${d[3]})`)
    .attr("text-anchor", "middle").attr("dy", "0.36em")
    .attr("font-size", 18).attr("fill", "#222").text(d => d[0]);

  inner.append("path").datum(p.green).attr("d", line).attr("fill", "none")
    .attr("stroke", "#078a07").attr("stroke-width", 2.6);
  inner.selectAll("line.orange").data(p.orange).join("line")
    .attr("class", "orange")
    .attr("x1", x(-40)).attr("x2", x(-40)).attr("y1", d => y(d[0])).attr("y2", d => y(d[1]))
    .attr("stroke", "#f58a2c").attr("stroke-width", 1.8);

  const title = g.append("text").attr("x", left + 9).attr("y", top + 238)
    .attr("font-size", 21).style("fill", p.kind === "n2" ? "#f2f2f2" : "#1c1c1c");
  writeRuns(title, p.title, 21);

  g.append("rect").attr("x", left).attr("y", top).attr("width", panelW).attr("height", panelH)
    .attr("fill", "none").attr("stroke", "#333").attr("stroke-width", 1.1);

  if (p.col === 0) {
    const ay = g.append("g").attr("transform", `translate(${left},0)`)
      .call(d3.axisLeft(y).tickValues(DEPTH_TICKS).tickSize(6).tickPadding(6).tickFormat(d => "−" + d));
    ay.select(".domain").remove();
    ay.selectAll("text").attr("font-size", FS).attr("font-family", null);
    ay.selectAll("line").attr("stroke", "#222");
  }
  if (p.row === 3) {
    const ax = g.append("g").attr("transform", `translate(0,${top + panelH})`)
      .call(d3.axisBottom(x).tickValues(LAT_TICKS).tickSize(6).tickPadding(6).tickFormat(d => (d < 0 ? "−" : "") + Math.abs(d)));
    ax.select(".domain").remove();
    ax.selectAll("text").attr("font-size", FS).attr("font-family", null);
    ax.selectAll("line").attr("stroke", "#222");
  }
});

// colorbars
const barTop = 80, barH = 25;

function drawBar(x, lo, hi, tickVals, fmt, cells, underColor, overColor) {
  const g = svg.append("g");
  const xa = x(lo), xb = x(hi), mid = barTop + barH / 2;
  const tip = 22;
  g.selectAll("rect").data(cells).join("rect")
    .attr("x", d => x(d[0])).attr("width", d => x(d[1]) - x(d[0]) + 0.6)
    .attr("y", barTop).attr("height", barH).attr("fill", d => d[2]);
  g.append("path").attr("d", `M${xa},${barTop}L${xa - tip},${mid}L${xa},${barTop + barH}Z`).attr("fill", underColor);
  g.append("path").attr("d", `M${xb},${barTop}L${xb + tip},${mid}L${xb},${barTop + barH}Z`).attr("fill", overColor);
  g.append("path")
    .attr("d", `M${xa},${barTop}L${xb},${barTop}L${xb + tip},${mid}L${xb},${barTop + barH}L${xa},${barTop + barH}L${xa - tip},${mid}Z`)
    .attr("fill", "none").attr("stroke", "#222").attr("stroke-width", 1);
  const ax = g.append("g").attr("transform", `translate(0,${barTop})`)
    .call(d3.axisTop(x).tickValues(tickVals).tickSize(6).tickPadding(9).tickFormat(fmt));
  ax.select(".domain").remove();
  ax.selectAll("text").attr("font-size", FS).attr("font-family", null);
  ax.selectAll("line").attr("stroke", "#222");
}

const xN2 = d3.scaleLinear().domain([-5, -3]).range([204.5, 562]);
const n2Cells = d3.range(26).map(i => [-5.21 + i * 0.1, -5.11 + i * 0.1, n2Ramp(-5.15 + i * 0.1)]);
drawBar(xN2, -5.21, -2.61, N2_TICKS, d => "−" + Math.abs(d), n2Cells, "#000000", "#ffffff");

const xPhi = d3.scaleLinear().domain([-0.6, 0.6]).range([783, 1061.5]);
const phiCells = d3.range(0, 200).map(i => [-1 + i * 0.01, -0.99 + i * 0.01, phiRamp(-0.995 + i * 0.01)]);
drawBar(xPhi, -1, 1, PHI_TICKS, d => d === 0 ? "0.0" : (d < 0 ? "−" : "") + Math.abs(d).toFixed(1), phiCells, "#1a2759", "#2f1038");

const t1 = svg.append("text").attr("x", 401).attr("y", 39).attr("text-anchor", "middle").attr("font-size", FS);
writeRuns(t1, [["log", "r"], ["10", "s"], ["(N", "r"], ["2", "u"], [") [s", "r"], ["−2", "u"], ["]", "r"]], FS);
const t2 = svg.append("text").attr("x", 922).attr("y", 39).attr("text-anchor", "middle").attr("font-size", FS);
writeRuns(t2, [["Φ [", "r"], ["Sv", "i"], ["]", "r"]], FS);

const t3 = svg.append("text").attr("x", 651).attr("y", 1220).attr("text-anchor", "middle").attr("font-size", FS);
writeRuns(t3, [["Latitude", "r"]], FS);
const t4 = svg.append("text").attr("transform", "translate(36,625) rotate(-90)").attr("text-anchor", "middle").attr("font-size", FS);
writeRuns(t4, [["Depth [", "r"], ["m", "i"], ["]", "r"]], FS);
</script>
</body>
</html>
